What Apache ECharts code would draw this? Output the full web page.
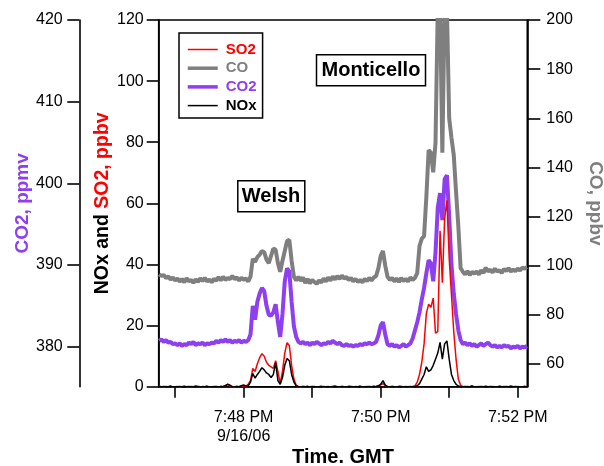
<!DOCTYPE html>
<html>
<head>
<meta charset="utf-8">
<script src="https://cdn.jsdelivr.net/npm/echarts@6/dist/echarts.min.js"></script>
<style>html,body{margin:0;padding:0;background:#fff}#c{width:604px;height:466px}</style>
</head>
<body>
<div id="c"></div>
<script>
// time: seconds after 7:47:00 PM GMT, 9/16/06
var times = [
 -14,-12,-10,-8,-6,-4,-2,0,2,4,
 6,8,10,12,14,16,18,20,22,24,
 26,28,30,32,34,36,38,40,42,44,
 46,48,50,52,54,56,58,60,62,64,
 66,68,70,72,74,76,78,80,82,84,
 86,88,90,92,94,96,98,100,102,104,
 106,108,110,112,114,116,118,120,122,124,
 126,128,130,132,134,136,138,140,142,144,
 146,148,150,152,154,156,158,160,162,164,
 166,168,170,172,174,176,178,180,182,184,
 186,188,190,192,194,196,198,200,202,204,
 206,208,210,212,214,216,218,220,222,224,
 226,228,230,232,234,236,238,240,242,244,
 246,248,250,252,254,256,258,260,262,264,
 266,268,270,272,274,276,278,280,282,284,
 286,288,290,292,294,296,298,300,302,304,
 306,308];
// CO, ppbv
var co = [
 96.5,95.8,96.2,95.0,95.6,94.4,95.2,94.0,94.8,93.5,
 94.6,93.2,94.9,93.6,94.2,93.0,94.5,93.4,94.8,93.8,
 95.0,93.6,94.4,93.2,94.7,93.9,95.3,94.0,95.5,94.2,
 95.0,94.5,95.8,94.6,95.2,94.0,95.1,94.3,94.8,93.6,
 95.5,102.8,101.5,103.5,104.5,106.0,105.5,102.5,101.0,104.0,
 107.0,106.5,101.0,97.5,102.0,106.0,110.0,110.5,102.0,95.5,
 94.0,95.5,93.8,95.2,93.0,94.6,92.8,94.2,93.4,92.6,
 94.0,93.2,94.8,93.6,95.2,94.0,95.6,94.4,95.8,94.6,
 96.0,94.8,95.4,94.2,95.0,93.6,94.6,93.4,94.2,93.2,
 94.6,93.8,95.0,94.0,95.2,95.8,99.0,104.0,106.0,100.0,
 95.5,94.2,95.0,93.6,94.8,93.4,95.0,93.8,94.6,93.6,
 95.2,94.2,95.0,97.0,108.0,111.0,112.0,128.0,147.0,146.0,
 138.0,150.0,205.0,205.0,146.0,205.0,205.0,160.0,152.0,145.0,
 130.0,116.0,99.0,97.5,96.5,97.8,96.2,97.5,96.8,97.6,
 96.4,98.2,97.0,99.2,97.6,98.4,97.2,98.8,97.6,98.2,
 97.0,98.6,97.8,99.0,97.6,98.4,97.8,98.8,98.0,99.2,
 98.8,99.4];
// CO2, ppmv
var co2 = [
 380.7,380.9,380.6,380.8,380.5,380.6,380.3,380.4,380.2,380.4,
 380.1,380.3,380.2,380.5,380.3,380.6,380.2,380.4,380.3,380.5,
 380.2,380.4,380.3,380.5,380.4,380.7,380.5,380.8,380.6,380.9,
 380.6,380.8,380.5,380.7,380.6,380.8,380.5,380.7,380.6,380.8,
 381.5,385.0,383.3,385.5,386.5,387.2,386.8,385.0,383.9,383.8,
 384.2,385.2,383.0,381.2,384.0,388.0,389.6,389.2,385.5,382.5,
 381.2,380.6,380.4,380.6,380.3,380.5,380.2,380.5,380.3,380.6,
 380.4,380.2,380.4,380.3,380.6,380.4,380.7,380.5,380.3,380.5,
 380.2,380.1,380.3,380.1,380.2,380.0,380.2,380.1,380.3,380.2,
 380.4,380.3,380.5,380.3,380.4,380.6,381.4,382.6,383.0,381.5,
 380.3,380.1,380.3,380.0,380.2,379.9,380.1,380.3,380.0,380.2,
 380.4,381.0,382.0,383.0,384.2,385.8,387.2,389.0,390.6,390.2,
 388.0,391.5,397.0,398.8,395.5,400.5,401.0,396.0,390.0,386.5,
 384.0,382.0,380.8,380.3,380.5,380.2,380.4,380.1,380.3,380.0,
 380.2,380.4,380.1,380.3,380.5,380.2,380.0,380.2,379.9,380.1,
 379.9,380.2,380.0,380.1,379.8,380.0,379.9,380.1,379.8,380.0,
 379.9,380.1];
// SO2, ppbv
var so2 = [
 0.2,0,-0.3,0.1,0,0.3,-0.2,0,0.1,-0.3,
 0,0.2,0,-0.2,0.1,0,0.3,0,-0.3,0.1,
 0,0.2,-0.2,0,0.1,0,-0.3,0.2,0,0.4,
 0.8,0.3,0,-0.2,0.1,0,0.2,0.3,0.2,0.8,
 2.0,6.0,5.0,7.5,9.5,10.8,10.0,8.0,7.0,6.5,
 6.0,8.5,5.0,1.0,5.0,11.0,14.4,13.5,7.0,2.5,
 0.5,0,-0.3,0.1,0,0.2,-0.3,0,0.1,-0.2,
 0,0.2,-0.3,0,0.1,-0.2,0,0.3,0,-0.3,
 0.1,0,-0.2,0.2,0,-0.3,0.1,0,0.2,-0.2,
 0,0.1,-0.3,0,0.2,0,0.3,0.6,1.0,0.4,
 0,-0.2,0.1,0,-0.3,0.2,0,-0.2,0.1,0,
 -0.3,0.1,0.3,1.5,4.0,8.0,14.0,24.0,27.0,26.0,
 29.0,17.5,18.0,51.0,34.0,55.0,61.0,42.0,30.0,18.0,
 9.0,2.5,0.5,0,-0.3,0.1,0,0.2,-0.2,0,
 0.1,-0.3,0,0.2,0,-0.2,0.1,0,-0.3,0.2,
 0,0.1,-0.2,0,0.3,0,-0.3,0.1,0,-0.2,
 0.1,0];
// NOx, ppbv
var nox = [
 0,0,0.1,0,0,0.1,0,0,0,0.1,
 0,0,0,0.1,0,0,0,0.1,0,0,
 0,0.1,0,0,0,0.1,0,0,0.1,0.3,
 0.8,0.5,0,0,0.1,0,0.3,0.6,0.2,0.3,
 1.5,4.3,2.8,4.0,5.0,6.2,5.5,4.5,4.0,3.0,
 4.0,7.9,2.0,0.8,3.0,7.0,9.2,8.5,4.0,1.5,
 0.3,0,0,0.1,0,0,0,0.1,0,0,
 0,0,0.1,0,0,0,0.1,0,0,0,
 0.1,0,0,0,0.1,0,0,0,0.1,0,
 0,0,0.1,0,0,0.1,0.3,0.8,2.0,0.5,
 0,0,0.1,0,0,0,0.1,0,0,0,
 0.1,0,0,0.3,1.0,2.5,4.0,6.5,5.0,5.5,
 7.0,9.0,11.0,14.5,9.0,14.0,15.0,9.0,4.0,2.0,
 0.8,0.2,0,0,0.1,0,0,0.2,0,0,
 0,0.1,0,0,0,0.1,0,0,0,0.1,
 0,0,0.1,0,0,0,0.1,0,0,0,
 0.1,0];

var xTickValues = [0, 60, 120, 180, 240, 300];
var xLabelValues = [60, 180, 300];
var xLabelTexts = ['7:48 PM\n9/16/06', '7:50 PM', '7:52 PM'];
var co2Ticks = [380, 390, 400, 410, 420];
var coTicks = [60, 80, 100, 120, 140, 160, 180, 200];
var legendNames = ['SO2', 'CO', 'CO2', 'NOx'];
var annotations = ['Monticello', 'Welsh'];

var FF = '"Liberation Sans", Arial, Helvetica, sans-serif';
var RED = '#ff0000', GRAY = '#7f7f7f', PURPLE = '#8e3ff0', BLACK = '#000000';
var legendColors = {SO2: RED, CO: GRAY, CO2: PURPLE, NOx: BLACK};
var legendWidths = {SO2: 1.5, CO: 3.5, CO2: 3.5, NOx: 1.5};

function pairs(v) { return times.map(function (t, i) { return [t, v[i]]; }); }

function yAx(extra) {
  var base = {
    type: 'value',
    splitLine: {show: false},
    axisLine: {show: true, onZero: false, lineStyle: {color: '#000', width: 1.6}},
    axisTick: {show: true, length: 12, lineStyle: {color: '#000', width: 1.6}},
    axisLabel: {color: '#000', fontSize: 16, fontFamily: FF},
    nameLocation: 'middle',
    nameMoveOverlap: false,
    nameTextStyle: {fontFamily: FF, fontSize: 19, fontWeight: 'bold'}
  };
  for (var k in extra) {
    if (typeof extra[k] === 'object' && base[k] && !Array.isArray(extra[k])) {
      base[k] = Object.assign({}, base[k], extra[k]);
    } else base[k] = extra[k];
  }
  return base;
}

var chart = echarts.init(document.getElementById('c'), null, {renderer: 'canvas'});
chart.setOption({
  animation: false,
  backgroundColor: '#fff',
  textStyle: {fontFamily: FF},
  grid: {left: 158.7, right: 76.7, top: 20, bottom: 79.3, show: true, borderColor: '#000', borderWidth: 1.6,
         containLabel: false, outerBoundsMode: 'none'},
  title: [
    {text: annotations[0], left: 316.5, top: 54.7, padding: [5, 5], borderColor: '#000', borderWidth: 1.5, backgroundColor: '#fff',
     textStyle: {fontFamily: FF, fontSize: 20, fontWeight: 'bold', color: '#000', lineHeight: 21}},
    {text: annotations[1], left: 237.3, top: 180.7, padding: [5, 4.5], borderColor: '#000', borderWidth: 1.5, backgroundColor: '#fff',
     textStyle: {fontFamily: FF, fontSize: 20, fontWeight: 'bold', color: '#000', lineHeight: 21}}
  ],
  legend: {
    orient: 'vertical', left: 179, top: 33, padding: [9, 6, 5, 7], itemGap: 3.7,
    itemWidth: 30, itemHeight: 14, borderColor: '#000', borderWidth: 1.5, backgroundColor: '#fff',
    itemStyle: {opacity: 0},
    textStyle: {fontFamily: FF, fontSize: 15, fontWeight: 'bold', padding: [0, 0, 0, 3]},
    data: legendNames.map(function (n) {
      return {name: n, textStyle: {color: legendColors[n]}, itemStyle: {opacity: 0},
              lineStyle: {width: legendWidths[n], color: legendColors[n]}};
    })
  },
  xAxis: {
    type: 'value', min: -14.4, max: 308.4,
    splitLine: {show: false},
    axisLine: {show: true, onZero: false, lineStyle: {color: '#000', width: 1.6}},
    axisTick: {show: true, length: 11, customValues: xTickValues, lineStyle: {color: '#000', width: 1.6}},
    axisLabel: {color: '#000', fontSize: 16, fontFamily: FF, margin: 21, lineHeight: 19, customValues: xLabelValues,
      formatter: function (v) { var i = xLabelValues.indexOf(v); return i >= 0 ? xLabelTexts[i] : ''; }},
    name: 'Time. GMT', nameLocation: 'middle', nameGap: 61, nameMoveOverlap: false,
    nameTextStyle: {fontFamily: FF, fontSize: 20, fontWeight: 'bold', color: '#000'}
  },
  yAxis: [
    yAx({position: 'left', offset: 0, min: 0, max: 120, interval: 20,
      axisLabel: {margin: 15},
      name: '{k|NOx and }{r|SO2, ppbv}', nameGap: 46,
      nameTextStyle: {fontFamily: FF, fontSize: 19, fontWeight: 'bold',
        rich: {k: {color: '#000', fontSize: 19.5, fontWeight: 'bold', fontFamily: FF},
               r: {color: RED, fontSize: 19.5, fontWeight: 'bold', fontFamily: FF}}}}),
    yAx({position: 'left', offset: 79.4, min: 375.1, max: 420,
      axisTick: {customValues: co2Ticks},
      axisLabel: {margin: 16.6, customValues: co2Ticks},
      name: 'CO2, ppmv', nameGap: 47,
      nameTextStyle: {color: PURPLE}}),
    yAx({position: 'right', offset: 0, min: 50.74, max: 200,
      axisTick: {customValues: coTicks, length: 13},
      axisLabel: {margin: 19, customValues: coTicks},
      name: 'CO, ppbv', nameGap: 58, nameRotate: -90,
      nameTextStyle: {color: GRAY}})
  ],
  series: [
    {name: 'CO', type: 'line', yAxisIndex: 2, data: pairs(co), symbol: 'none', lineStyle: {color: GRAY, width: 4}, itemStyle: {color: GRAY}},
    {name: 'CO2', type: 'line', yAxisIndex: 1, data: pairs(co2), symbol: 'none', lineStyle: {color: PURPLE, width: 4}, itemStyle: {color: PURPLE}},
    {name: 'SO2', type: 'line', yAxisIndex: 0, data: pairs(so2), symbol: 'none', lineStyle: {color: RED, width: 1.5}, itemStyle: {color: RED}},
    {name: 'NOx', type: 'line', yAxisIndex: 0, data: pairs(nox), symbol: 'none', lineStyle: {color: BLACK, width: 1.5}, itemStyle: {color: BLACK}}
  ]
});
</script>
</body>
</html>
